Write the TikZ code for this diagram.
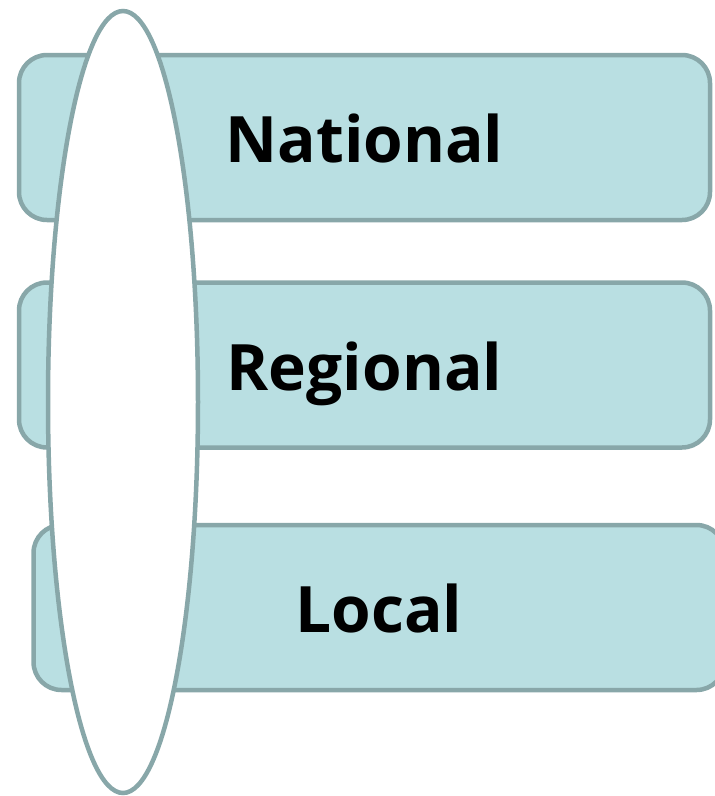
\documentclass[tikz,border=0pt]{standalone}
\usepackage{fontspec}
\setmainfont{Open Sans}
\usetikzlibrary{shapes.geometric}
\definecolor{tierfill}{HTML}{B9DFE2}
\definecolor{tierline}{HTML}{88A7A9}
\tikzset{
  tier/.style={draw=tierline, fill=tierfill, line width=4.5pt, rounded corners=28pt,
    minimum width=691pt, minimum height=165pt, inner sep=0pt,
    text height=50pt, text depth=0pt,
    font=\fontsize{64}{70}\selectfont\bfseries},
  band/.style={ellipse, draw=tierline, fill=white, line width=4.5pt,
    minimum width=150pt, minimum height=782pt, inner sep=0pt}
}
\begin{document}
\begin{tikzpicture}[x=1pt, y=-1pt]
  \useasboundingbox (0,0) rectangle (715,796);
  \clip (0,0) rectangle (715,796);
  % three stacked levels
  \node[tier] (national) at (364.5,137.5) {National};
  \node[tier] (regional) at (364.5,365) {Regional};
  \node[tier] (local) at (379,607.5) {Local};
  % tall oval spanning all levels
  \node[band] (span) at (123,402) {};
\end{tikzpicture}
\end{document}
